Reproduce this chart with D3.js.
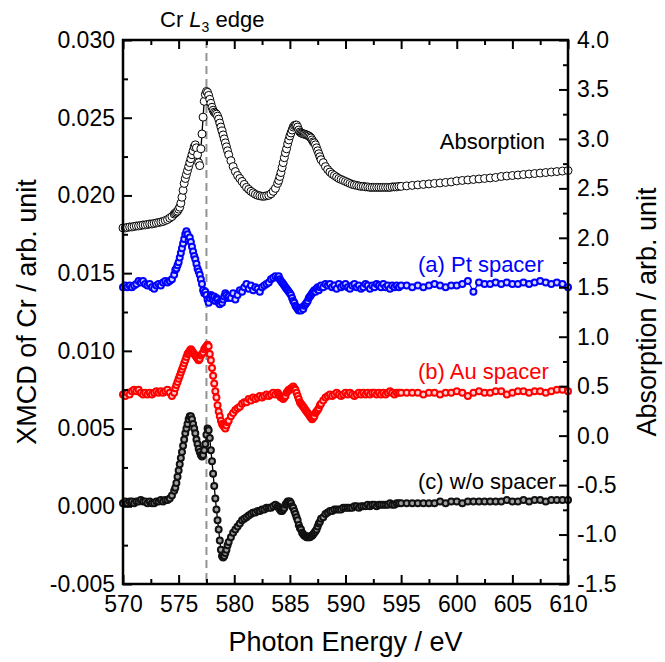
<!DOCTYPE html>
<html>
<head>
<meta charset="utf-8">
<script src="https://cdn.jsdelivr.net/npm/d3@7"></script>
<style>
  body { margin: 0; background: #fff; }
  svg { font-family: "Liberation Sans", Arial, sans-serif; }
</style>
</head>
<body>
<div id="wrapper"></div>
<script>
// Photon energy grid (eV), shared by every series
const energy = [
  570.0, 570.2, 570.4, 570.6, 570.8, 571.0, 571.2, 571.4, 571.6, 571.8, 572.0, 572.2,
  572.4, 572.6, 572.8, 573.0, 573.2, 573.4, 573.6, 573.8, 574.0, 574.2, 574.4, 574.6,
  574.7, 574.8, 574.9, 575.0, 575.1, 575.2, 575.3, 575.4, 575.5, 575.6,
  575.7, 575.8, 575.9, 576.0, 576.1, 576.2, 576.3, 576.4, 576.5, 576.6,
  576.7, 576.8, 576.9, 577.0, 577.1, 577.2, 577.3, 577.4, 577.5, 577.6,
  577.7, 577.8, 577.9, 578.0, 578.1, 578.2, 578.3, 578.4, 578.5, 578.6,
  578.7, 578.8, 578.9, 579.0, 579.1, 579.2, 579.3, 579.4, 579.5,
  579.7, 579.9, 580.1, 580.3, 580.5, 580.7, 580.9, 581.1, 581.3, 581.5, 581.7,
  581.9, 582.1, 582.3, 582.5, 582.7, 582.9, 583.1, 583.3, 583.5, 583.7, 583.9,
  584.0, 584.1, 584.2, 584.3, 584.4, 584.5, 584.6, 584.7, 584.8, 584.9,
  585.0, 585.1, 585.2, 585.3, 585.4, 585.5, 585.6, 585.7, 585.8, 585.9,
  586.0, 586.1, 586.2, 586.3, 586.4, 586.5, 586.6, 586.7, 586.8, 586.9,
  587.0, 587.1, 587.2, 587.3, 587.4, 587.5, 587.6, 587.7, 587.8,
  588.0, 588.2, 588.4, 588.6, 588.8, 589.0, 589.2, 589.4, 589.6, 589.8,
  590.0, 590.2, 590.4, 590.6, 590.8, 591.0, 591.2, 591.4, 591.6, 591.8,
  592.0, 592.2, 592.4, 592.6, 592.8, 593.0, 593.2, 593.4, 593.6, 593.8,
  594.0, 594.2, 594.4, 594.6, 594.8, 595.0,
  595.5, 596.0, 596.5, 597.0, 597.5, 598.0, 598.5, 599.0, 599.5, 600.0,
  600.5, 601.0, 601.5, 602.0, 602.5, 603.0, 603.5, 604.0, 604.5, 605.0,
  605.5, 606.0, 606.5, 607.0, 607.5, 608.0, 608.5, 609.0, 609.5, 610.0
];

// Absorption (right axis)
const absorption = [
  2.10, 2.10, 2.105, 2.11, 2.11, 2.115, 2.12, 2.12, 2.125, 2.13, 2.13, 2.135,
  2.14, 2.14, 2.145, 2.15, 2.155, 2.16, 2.165, 2.175, 2.185, 2.20, 2.215, 2.24,
  2.25, 2.26, 2.27, 2.29, 2.31, 2.35, 2.41, 2.48, 2.55, 2.60,
  2.64, 2.68, 2.72, 2.76, 2.80, 2.84, 2.88, 2.92, 2.94, 2.91,
  2.84, 2.76, 2.73, 2.90, 3.05, 3.22, 3.38, 3.45, 3.48, 3.47,
  3.44, 3.40, 3.36, 3.32, 3.29, 3.27, 3.26, 3.25, 3.23, 3.20,
  3.16, 3.12, 3.08, 3.04, 3.00, 2.96, 2.92, 2.88, 2.84,
  2.78, 2.72, 2.67, 2.63, 2.60, 2.57, 2.54, 2.51, 2.49, 2.47, 2.455,
  2.44, 2.43, 2.425, 2.42, 2.42, 2.425, 2.43, 2.445, 2.47, 2.50, 2.55,
  2.58, 2.62, 2.66, 2.71, 2.76, 2.81, 2.86, 2.90, 2.95, 2.99,
  3.03, 3.06, 3.09, 3.12, 3.135, 3.14, 3.14, 3.12, 3.09, 3.07,
  3.06, 3.055, 3.05, 3.05, 3.045, 3.04, 3.035, 3.03, 3.02, 3.01,
  2.99, 2.97, 2.96, 2.94, 2.91, 2.88, 2.85, 2.82, 2.79,
  2.76, 2.72, 2.69, 2.665, 2.645, 2.63, 2.615, 2.60, 2.59, 2.58,
  2.57, 2.56, 2.55, 2.54, 2.535, 2.53, 2.525, 2.52, 2.52, 2.515,
  2.515, 2.51, 2.51, 2.51, 2.51, 2.51, 2.51, 2.51, 2.51, 2.51,
  2.51, 2.515, 2.515, 2.515, 2.52, 2.52,
  2.525, 2.53, 2.535, 2.54, 2.545, 2.55, 2.555, 2.56, 2.565, 2.575,
  2.58, 2.585, 2.59, 2.595, 2.60, 2.605, 2.61, 2.62, 2.625, 2.63,
  2.635, 2.64, 2.645, 2.65, 2.655, 2.66, 2.665, 2.67, 2.675, 2.68
];

// XMCD (a) Pt spacer (left axis)
const ptSpacer = [
  0.0141, 0.0142, 0.0141, 0.0142, 0.0141, 0.0142, 0.0143, 0.0145, 0.0144, 0.0145, 0.0143, 0.0142,
  0.0143, 0.0141, 0.0140, 0.0142, 0.0143, 0.0142, 0.0144, 0.0145, 0.0144, 0.0145, 0.0146, 0.0149,
  0.0152, 0.0153, 0.0155, 0.0157, 0.0160, 0.0163, 0.0166, 0.0169, 0.0172, 0.0175,
  0.0177, 0.0175, 0.0171, 0.0173, 0.0170, 0.0167, 0.0164, 0.0161, 0.0159, 0.0156,
  0.0153, 0.0151, 0.0149, 0.0146, 0.0143, 0.0139, 0.0137, 0.0138, 0.0136, 0.0133,
  0.0131, 0.0134, 0.0136, 0.0135, 0.0133, 0.0135, 0.0132, 0.0134, 0.0133, 0.0131,
  0.0130, 0.0132, 0.0131, 0.0133, 0.0135, 0.0137, 0.0136, 0.0134, 0.0135,
  0.0134, 0.0137, 0.0133, 0.0136, 0.0139, 0.0138, 0.0141, 0.0143, 0.0140, 0.0142, 0.0139,
  0.0141, 0.0140, 0.0138, 0.0141, 0.0142, 0.0143, 0.0144, 0.0146, 0.0147, 0.0148, 0.0147,
  0.0148, 0.0146, 0.0145, 0.0144, 0.0143, 0.0142, 0.0141, 0.0140, 0.0139, 0.0138,
  0.0137, 0.0136, 0.0134, 0.0132, 0.0131, 0.0129, 0.0128, 0.0127, 0.0126, 0.0127,
  0.0126, 0.0128, 0.0127, 0.0129, 0.0130, 0.0131, 0.0132, 0.0134, 0.0135, 0.0136,
  0.0137, 0.0138, 0.0139, 0.0138, 0.0140, 0.0141, 0.0139, 0.0141, 0.0142,
  0.0141, 0.0143, 0.0142, 0.0143, 0.0141, 0.0142, 0.0140, 0.0143, 0.0141, 0.0142,
  0.0143, 0.0141, 0.0140, 0.0142, 0.0143, 0.0141, 0.0142, 0.0140, 0.0141, 0.0143,
  0.0142, 0.0140, 0.0142, 0.0141, 0.0143, 0.0142, 0.0141, 0.0143, 0.0141, 0.0142,
  0.0140, 0.0142, 0.0141, 0.0142, 0.0141, 0.0142,
  0.0142, 0.0141, 0.0142, 0.0141, 0.0142, 0.0143, 0.0142, 0.0141, 0.0142, 0.0142,
  0.0143, 0.0145, 0.0138, 0.0144, 0.0143, 0.0143, 0.0144, 0.0143, 0.0144, 0.0143,
  0.0143, 0.0144, 0.0143, 0.0144, 0.0145, 0.0144, 0.0143, 0.0144, 0.0143, 0.0141
];

// XMCD (b) Au spacer (left axis)
const auSpacer = [
  0.0072, 0.0071, 0.0073, 0.0072, 0.0074, 0.0075, 0.0074, 0.0075, 0.0073, 0.0072, 0.0073, 0.0072,
  0.0073, 0.0072, 0.0073, 0.0074, 0.0073, 0.0074, 0.0073, 0.0074, 0.0075, 0.0073, 0.0071, 0.0073,
  0.0076, 0.0078, 0.0080, 0.0082, 0.0084, 0.0086, 0.0088, 0.0090, 0.0092, 0.0094,
  0.0096, 0.0098, 0.0099, 0.0100, 0.0101, 0.0100, 0.0099, 0.0098, 0.0097, 0.0096,
  0.0095, 0.0094, 0.0095, 0.0097, 0.0098, 0.0099, 0.0101, 0.0102, 0.0103, 0.0104,
  0.0103, 0.0098, 0.0094, 0.0089, 0.0084, 0.0079, 0.0074, 0.0070, 0.0065, 0.0061,
  0.0058, 0.0055, 0.0053, 0.0052, 0.0051, 0.0050, 0.0052, 0.0054, 0.0055,
  0.0058, 0.0060, 0.0062, 0.0063, 0.0064, 0.0066, 0.0067, 0.0067, 0.0069, 0.0068, 0.0070,
  0.0069, 0.0070, 0.0071, 0.0070, 0.0071, 0.0072, 0.0071, 0.0072, 0.0073, 0.0072, 0.0073,
  0.0072, 0.0071, 0.0070, 0.0070, 0.0069, 0.0070, 0.0071, 0.0073, 0.0074, 0.0075,
  0.0075, 0.0076, 0.0076, 0.0077, 0.0076, 0.0075, 0.0073, 0.0071, 0.0069, 0.0067,
  0.0066, 0.0065, 0.0064, 0.0063, 0.0062, 0.0061, 0.0060, 0.0059, 0.0058, 0.0057,
  0.0056, 0.0057, 0.0058, 0.0060, 0.0061, 0.0062, 0.0063, 0.0065, 0.0066,
  0.0068, 0.0070, 0.0071, 0.0072, 0.0071, 0.0072, 0.0073, 0.0072, 0.0071, 0.0072,
  0.0073, 0.0072, 0.0073, 0.0072, 0.0071, 0.0072, 0.0073, 0.0072, 0.0073, 0.0072,
  0.0073, 0.0072, 0.0073, 0.0073, 0.0072, 0.0073, 0.0072, 0.0073, 0.0072, 0.0073,
  0.0074, 0.0073, 0.0072, 0.0073, 0.0073, 0.0073,
  0.0073, 0.0073, 0.0073, 0.0072, 0.0073, 0.0073, 0.0072, 0.0073, 0.0073, 0.0074,
  0.0073, 0.0071, 0.0073, 0.0074, 0.0073, 0.0073, 0.0074, 0.0074, 0.0072, 0.0073,
  0.0074, 0.0074, 0.0073, 0.0074, 0.0074, 0.0073, 0.0074, 0.0075, 0.0075, 0.0074
];

// XMCD (c) w/o spacer (left axis)
const noSpacer = [
  0.0002, 0.0003, 0.0002, 0.0003, 0.0003, 0.0002, 0.0003, 0.0003, 0.0004, 0.0003, 0.0003, 0.0002,
  0.0003, 0.0002, 0.0002, 0.0003, 0.0003, 0.0004, 0.0003, 0.0004, 0.0004, 0.0005, 0.0007, 0.0010,
  0.0012, 0.0015, 0.0019, 0.0023, 0.0027, 0.0031, 0.0035, 0.0039, 0.0043, 0.0047,
  0.0050, 0.0053, 0.0056, 0.0058, 0.0058, 0.0056, 0.0053, 0.0050, 0.0047, 0.0043,
  0.0040, 0.0037, 0.0035, 0.0033, 0.0032, 0.0033, 0.0036, 0.0040, 0.0046, 0.0050,
  0.0049, 0.0044, 0.0036, 0.0029, 0.0021, 0.0013, 0.0005, -0.0002, -0.0009, -0.0015,
  -0.0022, -0.0028, -0.0032, -0.0033, -0.0032, -0.0030, -0.0028, -0.0025, -0.0023,
  -0.0020, -0.0017, -0.0015, -0.0013, -0.0011, -0.0009, -0.0008, -0.0007, -0.0006, -0.0005, -0.0004,
  -0.0004, -0.0003, -0.0003, -0.0002, -0.0002, -0.0001, -0.0001, -0.0001, 0.0000, 0.0001, 0.0000,
  -0.0001, -0.0002, -0.0003, -0.0003, -0.0002, -0.0001, 0.0001, 0.0002, 0.0003, 0.0003,
  0.0003, 0.0002, 0.0000, -0.0001, -0.0003, -0.0005, -0.0007, -0.0009, -0.0012, -0.0014,
  -0.0015, -0.0017, -0.0018, -0.0019, -0.0019, -0.0020, -0.0020, -0.0020, -0.0020, -0.0019,
  -0.0019, -0.0018, -0.0017, -0.0016, -0.0015, -0.0013, -0.0011, -0.0010, -0.0008,
  -0.0007, -0.0005, -0.0004, -0.0003, -0.0003, -0.0002, -0.0002, -0.0002, -0.0002, -0.0001,
  -0.0001, -0.0001, -0.0001, -0.0001, 0.0000, 0.0000, -0.0001, 0.0000, 0.0000, 0.0000,
  0.0001, 0.0000, 0.0001, 0.0001, 0.0000, 0.0001, 0.0001, 0.0001, 0.0001, 0.0001,
  0.0002, 0.0001, 0.0001, 0.0002, 0.0002, 0.0002,
  0.0002, 0.0002, 0.0002, 0.0002, 0.0002, 0.0002, 0.0003, 0.0002, 0.0003, 0.0003,
  0.0002, 0.0003, 0.0003, 0.0003, 0.0003, 0.0003, 0.0003, 0.0003, 0.0004, 0.0003,
  0.0003, 0.0004, 0.0003, 0.0004, 0.0004, 0.0003, 0.0004, 0.0004, 0.0004, 0.0004
];

const xTicks = [570, 575, 580, 585, 590, 595, 600, 605, 610];
const leftTicks = [-0.005, 0.000, 0.005, 0.010, 0.015, 0.020, 0.025, 0.030];
const rightTicks = [-1.5, -1.0, -0.5, 0.0, 0.5, 1.0, 1.5, 2.0, 2.5, 3.0, 3.5, 4.0];
const edgeEnergy = 577.5;

// Set dimensions
const dimensions = {
  width: 665,
  height: 662,
  margins: { top: 40, right: 97, bottom: 78, left: 123 },
};
dimensions.boundedWidth = dimensions.width - dimensions.margins.left - dimensions.margins.right;
dimensions.boundedHeight = dimensions.height - dimensions.margins.top - dimensions.margins.bottom;

const svg = d3.select("#wrapper")
  .append("svg")
  .attr("width", dimensions.width)
  .attr("height", dimensions.height);

const bounds = svg.append("g")
  .attr("transform", `translate(${dimensions.margins.left},${dimensions.margins.top})`);

// Scales
const xScale = d3.scaleLinear().domain([570, 610]).range([0, dimensions.boundedWidth]);
const yLeft = d3.scaleLinear().domain([-0.005, 0.030]).range([dimensions.boundedHeight, 0]);
const yRight = d3.scaleLinear().domain([-1.5, 4.0]).range([dimensions.boundedHeight, 0]);

// Dashed marker for the Cr L3 edge
bounds.append("line")
  .attr("x1", xScale(edgeEnergy)).attr("x2", xScale(edgeEnergy))
  .attr("y1", 0).attr("y2", dimensions.boundedHeight)
  .attr("stroke", "#939393")
  .attr("stroke-width", 2)
  .attr("stroke-dasharray", "8,5");

// Series
const series = [
  { values: absorption, y: yRight, line: "#000", stroke: "#000", fill: "#fff", r: 4, sw: 1 },
  { values: ptSpacer, y: yLeft, line: "#0000ff", stroke: "#0000ff", fill: "#d8d8ff", r: 3, sw: 2 },
  { values: auSpacer, y: yLeft, line: "#ff0000", stroke: "#ff0000", fill: "#ffd0d0", r: 3, sw: 2 },
  { values: noSpacer, y: yLeft, line: "#000", stroke: "#111", fill: "#a0a0a0", r: 3, sw: 2 },
];

series.forEach((s) => {
  const pts = energy.map((e, i) => [e, s.values[i]]);
  const lineGen = d3.line()
    .x((d) => xScale(d[0]))
    .y((d) => s.y(d[1]));

  bounds.append("path")
    .datum(pts)
    .attr("d", lineGen)
    .attr("fill", "none")
    .attr("stroke", s.line)
    .attr("stroke-width", 1.3);

  bounds.append("g")
    .selectAll("circle")
    .data(pts)
    .enter()
    .append("circle")
    .attr("cx", (d) => xScale(d[0]))
    .attr("cy", (d) => s.y(d[1]))
    .attr("r", s.r)
    .attr("fill", s.fill)
    .attr("stroke", s.stroke)
    .attr("stroke-width", s.sw);
});

// Axes
const tickLen = 9;
const minorLen = 5;

function styleAxis(g) {
  g.select(".domain").remove();
  g.selectAll(".tick line").attr("stroke", "#000").attr("stroke-width", 2);
  g.selectAll(".tick text")
    .attr("fill", "#000")
    .style("font-size", "23px")
    .style("font-family", '"Liberation Sans", Arial, sans-serif');
}

const xMinor = d3.range(572.5, 610, 5);
const leftMinor = d3.range(-0.0025, 0.030, 0.005);
const rightMinor = d3.range(-1.25, 4.0, 0.5);

// bottom
bounds.append("g")
  .attr("transform", `translate(0,${dimensions.boundedHeight})`)
  .call(d3.axisBottom(xScale).tickValues(xTicks).tickFormat(d3.format("d"))
    .tickSizeInner(-tickLen).tickSizeOuter(0).tickPadding(12))
  .call(styleAxis);
bounds.append("g")
  .attr("transform", `translate(0,${dimensions.boundedHeight})`)
  .call(d3.axisBottom(xScale).tickValues(xMinor).tickFormat("").tickSizeInner(-minorLen).tickSizeOuter(0))
  .call(styleAxis);

// top (mirror, no labels)
bounds.append("g")
  .call(d3.axisTop(xScale).tickValues(xTicks).tickFormat("").tickSizeInner(-tickLen).tickSizeOuter(0))
  .call(styleAxis);
bounds.append("g")
  .call(d3.axisTop(xScale).tickValues(xMinor).tickFormat("").tickSizeInner(-minorLen).tickSizeOuter(0))
  .call(styleAxis);

// left
bounds.append("g")
  .call(d3.axisLeft(yLeft).tickValues(leftTicks).tickFormat((d) => d.toFixed(3))
    .tickSizeInner(-tickLen).tickSizeOuter(0).tickPadding(8))
  .call(styleAxis);
bounds.append("g")
  .call(d3.axisLeft(yLeft).tickValues(leftMinor).tickFormat("").tickSizeInner(-minorLen).tickSizeOuter(0))
  .call(styleAxis);

// right
bounds.append("g")
  .attr("transform", `translate(${dimensions.boundedWidth},0)`)
  .call(d3.axisRight(yRight).tickValues(rightTicks).tickFormat((d) => d.toFixed(1))
    .tickSizeInner(-tickLen).tickSizeOuter(0).tickPadding(9))
  .call(styleAxis);
bounds.append("g")
  .attr("transform", `translate(${dimensions.boundedWidth},0)`)
  .call(d3.axisRight(yRight).tickValues(rightMinor).tickFormat("").tickSizeInner(-minorLen).tickSizeOuter(0))
  .call(styleAxis);

// Frame
bounds.append("rect")
  .attr("width", dimensions.boundedWidth)
  .attr("height", dimensions.boundedHeight)
  .attr("fill", "none")
  .attr("stroke", "#000")
  .attr("stroke-width", 2.5);

// Axis titles
svg.append("text")
  .attr("x", dimensions.margins.left + dimensions.boundedWidth / 2)
  .attr("y", 651)
  .attr("text-anchor", "middle")
  .style("font-size", "27px")
  .text("Photon Energy / eV");

svg.append("text")
  .attr("transform", `translate(36,${dimensions.margins.top + dimensions.boundedHeight / 2}) rotate(-90)`)
  .attr("text-anchor", "middle")
  .style("font-size", "27px")
  .text("XMCD of Cr / arb. unit");

svg.append("text")
  .attr("transform", `translate(656,${dimensions.margins.top + dimensions.boundedHeight / 2}) rotate(-90)`)
  .attr("text-anchor", "middle")
  .style("font-size", "27px")
  .text("Absorption / arb. unit");

// Edge label
const edgeLabel = svg.append("text")
  .attr("x", 160)
  .attr("y", 27)
  .style("font-size", "22px");
edgeLabel.append("tspan").text("Cr ");
edgeLabel.append("tspan").style("font-style", "italic").text("L");
edgeLabel.append("tspan").attr("dy", 5).style("font-size", "14px").text("3");
edgeLabel.append("tspan").attr("dy", -5).text(" edge");

// Curve labels
const labels = [
  { text: "Absorption", color: "#000", x: 545, y: 149, anchor: "end" },
  { text: "(a) Pt spacer", color: "#0000ff", x: 418, y: 272, anchor: "start" },
  { text: "(b) Au spacer", color: "#ff0000", x: 418, y: 379, anchor: "start" },
  { text: "(c) w/o spacer", color: "#000", x: 418, y: 489, anchor: "start" },
];
svg.append("g")
  .selectAll("text")
  .data(labels)
  .enter()
  .append("text")
  .attr("x", (d) => d.x)
  .attr("y", (d) => d.y)
  .attr("text-anchor", (d) => d.anchor)
  .attr("fill", (d) => d.color)
  .style("font-size", "22px")
  .text((d) => d.text);
</script>
</body>
</html>
